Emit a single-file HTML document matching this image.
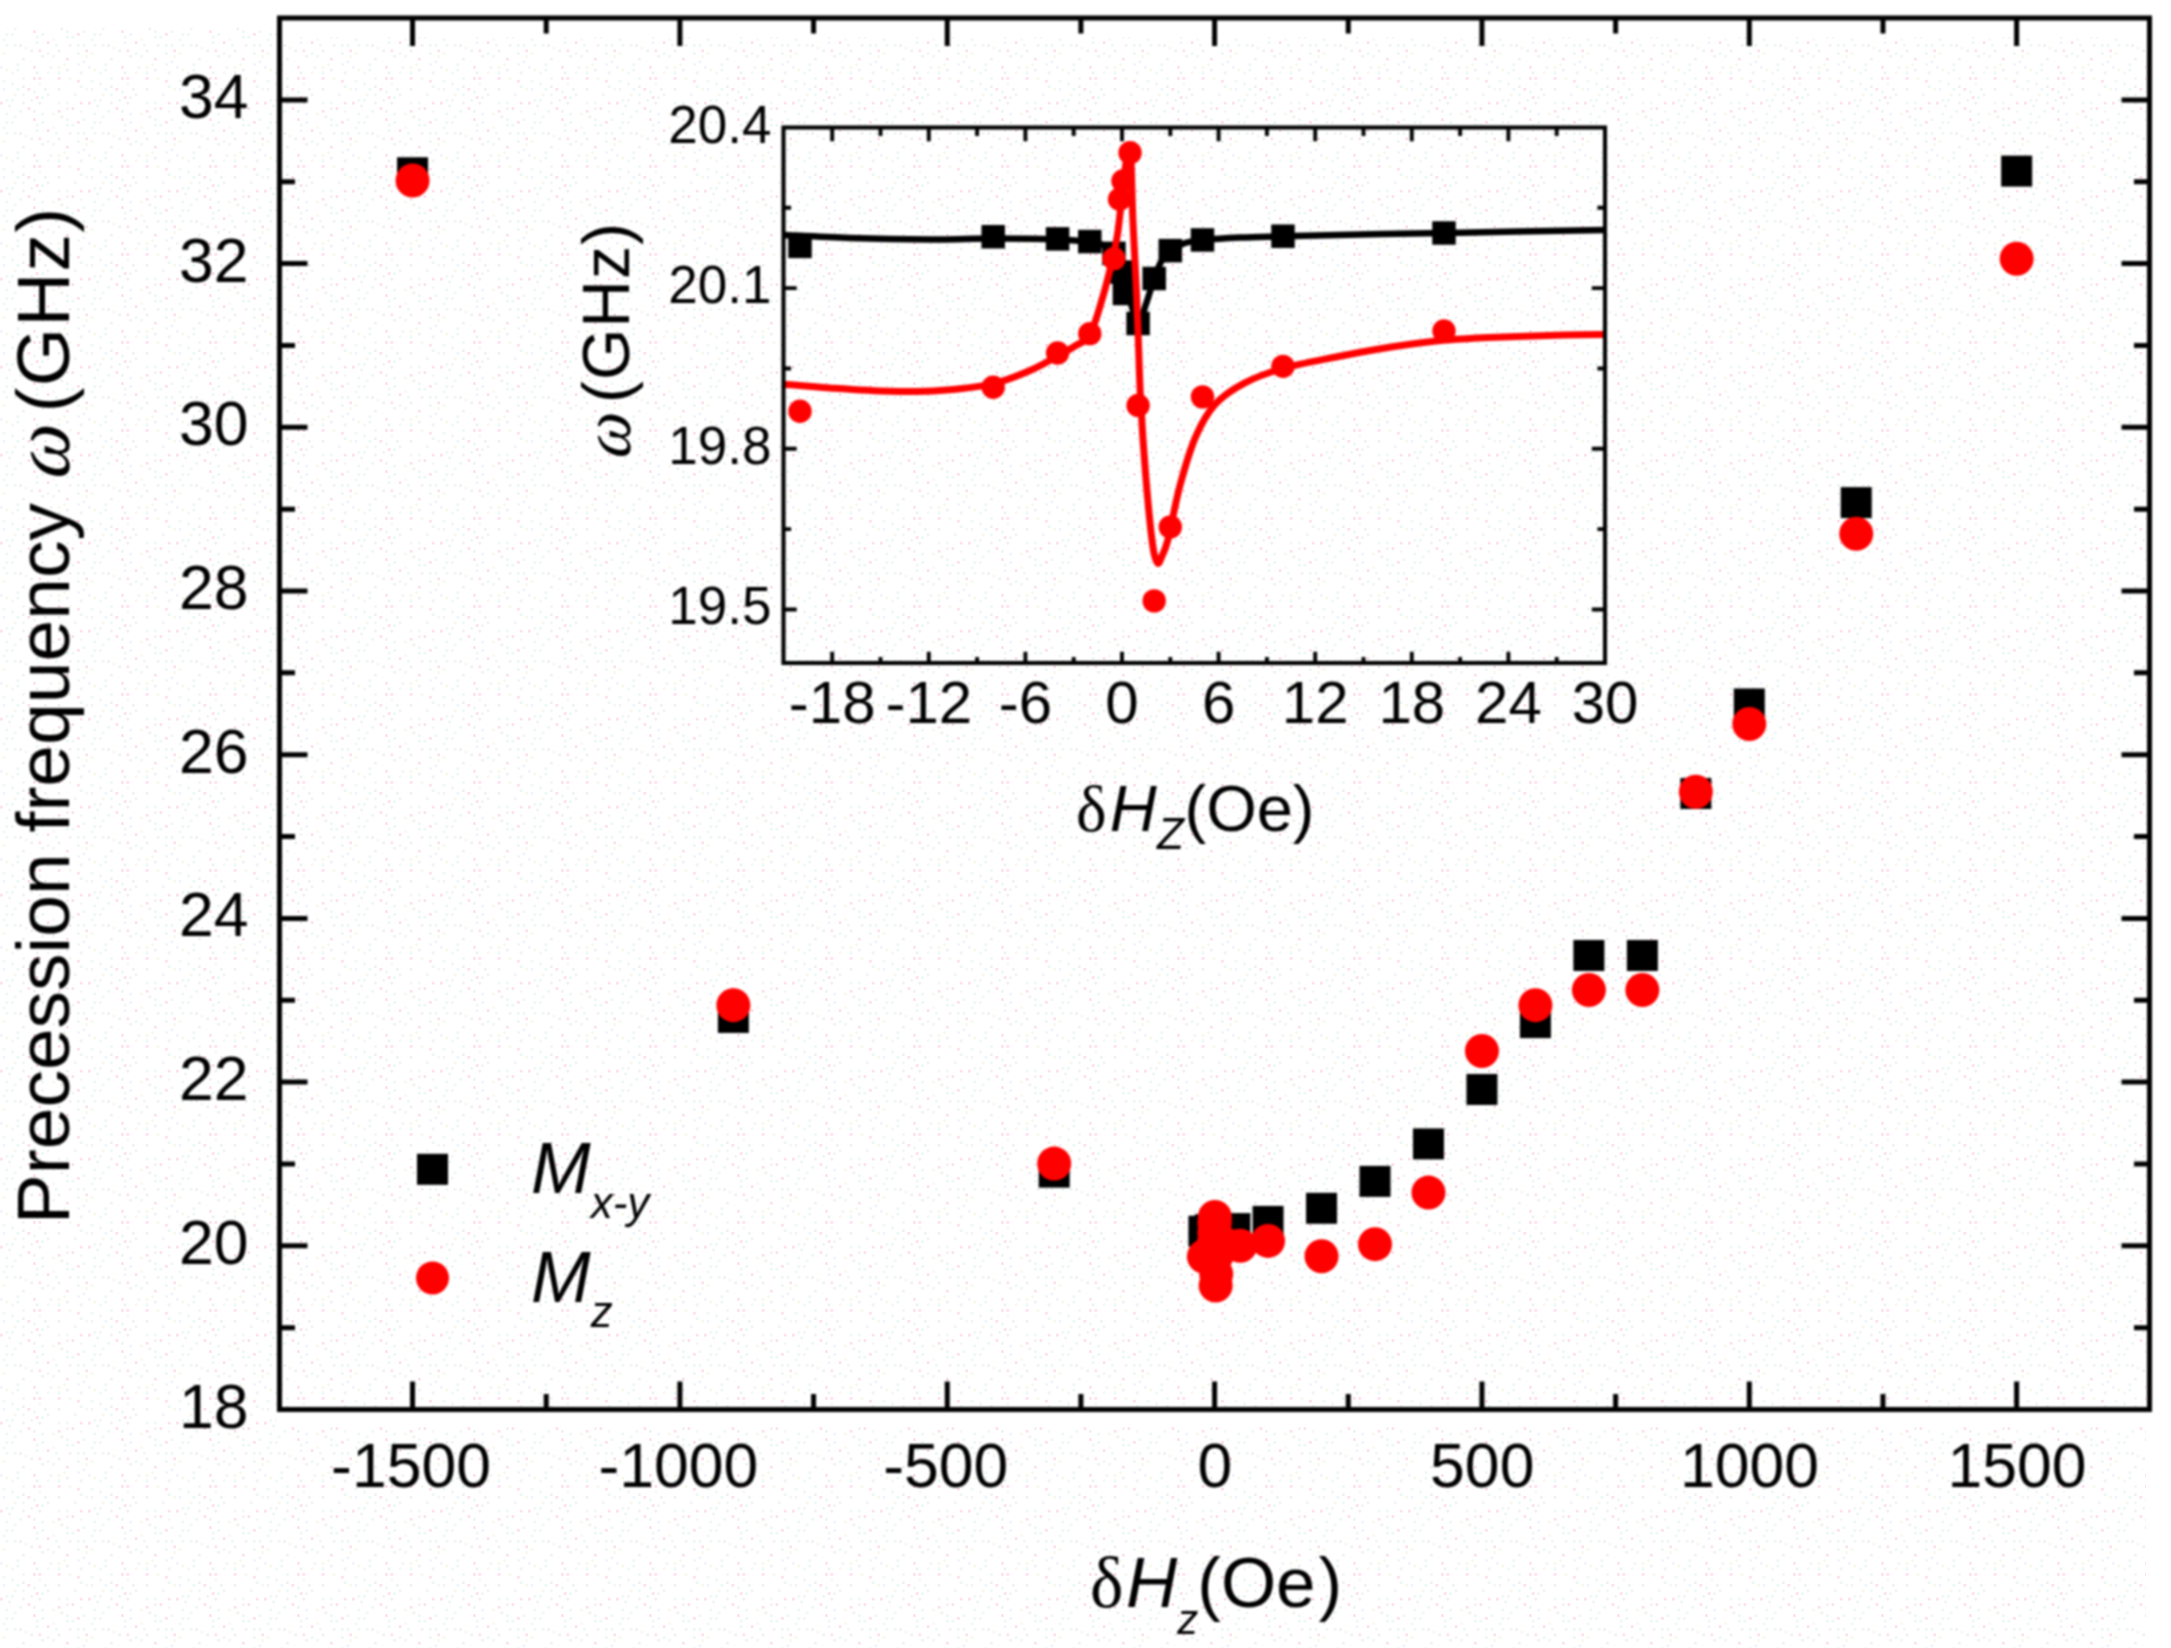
<!DOCTYPE html>
<html lang="en"><head><meta charset="utf-8"><title>Precession frequency vs field</title>
<style>html,body{margin:0;padding:0;background:#fff}svg{display:block}text{font-family:"Liberation Sans",sans-serif;fill:#000}.gr{font-family:"Liberation Serif","DejaVu Serif",serif}.it{font-style:italic}</style></head><body>
<svg width="2171" height="1648" viewBox="0 0 2171 1648">
<defs><pattern id="dots" width="88" height="88" patternUnits="userSpaceOnUse"><rect width="88" height="88" fill="#fff"/>
<rect x="77.00" y="79.75" width="2.75" height="2.75" fill="#ffe0ec"/>
<rect x="33.00" y="30.25" width="2.75" height="2.75" fill="#ffe0ec"/>
<rect x="82.50" y="30.25" width="2.75" height="2.75" fill="#eff8f9"/>
<rect x="77.00" y="52.25" width="2.75" height="2.75" fill="#eff8f9"/>
<rect x="13.75" y="5.50" width="2.75" height="2.75" fill="#f8f9ec"/>
<rect x="68.75" y="77.00" width="2.75" height="2.75" fill="#f8f9ec"/>
<rect x="27.50" y="0.00" width="2.75" height="2.75" fill="#ffe0ec"/>
<rect x="5.50" y="33.00" width="2.75" height="2.75" fill="#eff8f9"/>
<rect x="2.75" y="79.75" width="2.75" height="2.75" fill="#eff8f9"/>
<rect x="77.00" y="33.00" width="2.75" height="2.75" fill="#ffe0ec"/>
<rect x="38.50" y="49.50" width="2.75" height="2.75" fill="#ffe0ec"/>
<rect x="0.00" y="13.75" width="2.75" height="2.75" fill="#ffe0ec"/>
<rect x="46.75" y="71.50" width="2.75" height="2.75" fill="#f8f9ec"/>
<rect x="13.75" y="44.00" width="2.75" height="2.75" fill="#eff8f9"/>
<rect x="16.50" y="68.75" width="2.75" height="2.75" fill="#eff8f9"/>
<rect x="49.50" y="66.00" width="2.75" height="2.75" fill="#eff8f9"/>
<rect x="2.75" y="0.00" width="2.75" height="2.75" fill="#eff8f9"/>
<rect x="35.75" y="8.25" width="2.75" height="2.75" fill="#ffe0ec"/>
<rect x="66.00" y="68.75" width="2.75" height="2.75" fill="#f2f2f2"/>
<rect x="11.00" y="33.00" width="2.75" height="2.75" fill="#eff8f9"/>
<rect x="57.75" y="13.75" width="2.75" height="2.75" fill="#eff8f9"/>
<rect x="57.75" y="0.00" width="2.75" height="2.75" fill="#f2f2f2"/>
<rect x="19.25" y="22.00" width="2.75" height="2.75" fill="#eff8f9"/>
<rect x="16.50" y="0.00" width="2.75" height="2.75" fill="#eff8f9"/>
<rect x="79.75" y="85.25" width="2.75" height="2.75" fill="#eff8f9"/>
<rect x="33.00" y="77.00" width="2.75" height="2.75" fill="#ffe0ec"/>
<rect x="33.00" y="22.00" width="2.75" height="2.75" fill="#f2f2f2"/>
<rect x="66.00" y="19.25" width="2.75" height="2.75" fill="#f2f2f2"/>
<rect x="71.50" y="35.75" width="2.75" height="2.75" fill="#eff8f9"/>
<rect x="46.75" y="52.25" width="2.75" height="2.75" fill="#eff8f9"/>
<rect x="5.50" y="24.75" width="2.75" height="2.75" fill="#eff8f9"/>
<rect x="77.00" y="44.00" width="2.75" height="2.75" fill="#eff8f9"/>
<rect x="57.75" y="49.50" width="2.75" height="2.75" fill="#f2f2f2"/>
<rect x="11.00" y="11.00" width="2.75" height="2.75" fill="#eff8f9"/>
<rect x="35.75" y="41.25" width="2.75" height="2.75" fill="#eff8f9"/>
<rect x="63.25" y="63.25" width="2.75" height="2.75" fill="#f8f9ec"/>
<rect x="79.75" y="22.00" width="2.75" height="2.75" fill="#f8f9ec"/>
<rect x="66.00" y="30.25" width="2.75" height="2.75" fill="#eff8f9"/>
<rect x="52.25" y="38.50" width="2.75" height="2.75" fill="#f8f9ec"/>
<rect x="41.25" y="33.00" width="2.75" height="2.75" fill="#eff8f9"/>
<rect x="33.00" y="66.00" width="2.75" height="2.75" fill="#ffe0ec"/>
<rect x="8.25" y="16.50" width="2.75" height="2.75" fill="#eff8f9"/>
<rect x="5.50" y="44.00" width="2.75" height="2.75" fill="#eff8f9"/>
<rect x="68.75" y="44.00" width="2.75" height="2.75" fill="#f2f2f2"/>
<rect x="85.25" y="49.50" width="2.75" height="2.75" fill="#ffe0ec"/>
<rect x="30.25" y="11.00" width="2.75" height="2.75" fill="#eff8f9"/>
<rect x="38.50" y="82.50" width="2.75" height="2.75" fill="#f8f9ec"/>
<rect x="35.75" y="35.75" width="2.75" height="2.75" fill="#eff8f9"/>
<rect x="41.25" y="8.25" width="2.75" height="2.75" fill="#eff8f9"/>
<rect x="30.25" y="49.50" width="2.75" height="2.75" fill="#f2f2f2"/>
<rect x="22.00" y="13.75" width="2.75" height="2.75" fill="#f2f2f2"/>
<rect x="22.00" y="77.00" width="2.75" height="2.75" fill="#eff8f9"/>
<rect x="22.00" y="5.50" width="2.75" height="2.75" fill="#eff8f9"/>
<rect x="82.50" y="60.50" width="2.75" height="2.75" fill="#eff8f9"/>
<rect x="11.00" y="82.50" width="2.75" height="2.75" fill="#eff8f9"/>
<rect x="52.25" y="55.00" width="2.75" height="2.75" fill="#eff8f9"/>
<rect x="77.00" y="63.25" width="2.75" height="2.75" fill="#eff8f9"/>
<rect x="22.00" y="57.75" width="2.75" height="2.75" fill="#f2f2f2"/>
<rect x="11.00" y="71.50" width="2.75" height="2.75" fill="#eff8f9"/>
<rect x="85.25" y="0.00" width="2.75" height="2.75" fill="#f8f9ec"/>
<rect x="19.25" y="44.00" width="2.75" height="2.75" fill="#f2f2f2"/>
<rect x="57.75" y="66.00" width="2.75" height="2.75" fill="#f8f9ec"/>
<rect x="79.75" y="13.75" width="2.75" height="2.75" fill="#ffe0ec"/>
<rect x="2.75" y="52.25" width="2.75" height="2.75" fill="#f8f9ec"/>
<rect x="2.75" y="38.50" width="2.75" height="2.75" fill="#eff8f9"/>
<rect x="44.00" y="0.00" width="2.75" height="2.75" fill="#f2f2f2"/>
<rect x="52.25" y="24.75" width="2.75" height="2.75" fill="#f8f9ec"/>
<rect x="57.75" y="77.00" width="2.75" height="2.75" fill="#ffe0ec"/>
<rect x="41.25" y="55.00" width="2.75" height="2.75" fill="#f2f2f2"/>
<rect x="22.00" y="85.25" width="2.75" height="2.75" fill="#f2f2f2"/>
<rect x="5.50" y="11.00" width="2.75" height="2.75" fill="#eff8f9"/>
<rect x="27.50" y="19.25" width="2.75" height="2.75" fill="#ffe0ec"/>
<rect x="35.75" y="71.50" width="2.75" height="2.75" fill="#f2f2f2"/>
<rect x="85.25" y="55.00" width="2.75" height="2.75" fill="#f8f9ec"/>
<rect x="46.75" y="5.50" width="2.75" height="2.75" fill="#eff8f9"/>
<rect x="33.00" y="2.75" width="2.75" height="2.75" fill="#eff8f9"/>
<rect x="41.25" y="24.75" width="2.75" height="2.75" fill="#eff8f9"/>
<rect x="16.50" y="63.25" width="2.75" height="2.75" fill="#eff8f9"/>
<rect x="82.50" y="44.00" width="2.75" height="2.75" fill="#eff8f9"/>
<rect x="60.50" y="27.50" width="2.75" height="2.75" fill="#f2f2f2"/>
<rect x="38.50" y="13.75" width="2.75" height="2.75" fill="#f2f2f2"/>
<rect x="66.00" y="57.75" width="2.75" height="2.75" fill="#ffe0ec"/>
<rect x="66.00" y="13.75" width="2.75" height="2.75" fill="#eff8f9"/>
<rect x="55.00" y="44.00" width="2.75" height="2.75" fill="#eff8f9"/>
<rect x="57.75" y="71.50" width="2.75" height="2.75" fill="#eff8f9"/>
<rect x="74.25" y="5.50" width="2.75" height="2.75" fill="#eff8f9"/>
<rect x="57.75" y="22.00" width="2.75" height="2.75" fill="#ffe0ec"/>
<rect x="38.50" y="77.00" width="2.75" height="2.75" fill="#ffe0ec"/>
<rect x="66.00" y="35.75" width="2.75" height="2.75" fill="#eff8f9"/>
<rect x="24.75" y="46.75" width="2.75" height="2.75" fill="#f8f9ec"/>
<rect x="71.50" y="19.25" width="2.75" height="2.75" fill="#ffe0ec"/>
<rect x="0.00" y="66.00" width="2.75" height="2.75" fill="#eff8f9"/>
<rect x="5.50" y="68.75" width="2.75" height="2.75" fill="#f8f9ec"/>
<rect x="13.75" y="27.50" width="2.75" height="2.75" fill="#eff8f9"/>
<rect x="79.75" y="71.50" width="2.75" height="2.75" fill="#f2f2f2"/>
<rect x="46.75" y="41.25" width="2.75" height="2.75" fill="#ffe0ec"/>
</pattern><filter id="soft" x="0" y="0" width="2171" height="1648" filterUnits="userSpaceOnUse" color-interpolation-filters="sRGB"><feGaussianBlur stdDeviation="1.1"/></filter></defs>
<rect width="2171" height="1648" fill="#fff"/>
<rect x="0" y="27" width="2146" height="1621" fill="url(#dots)"/>
<rect x="279.5" y="18.0" width="1870.0" height="19" fill="#fff"/>
<rect x="276.5" y="1409.5" width="1876.0" height="17.5" fill="#fff"/>
<rect x="2149.5" y="0" width="21.5" height="1412.5" fill="#fff"/>
<g filter="url(#soft)">
<g stroke="#000" stroke-width="5.0" fill="none">
<path d="M412.55 18.0v28.0M412.55 1409.5v-28.0"/>
<path d="M546.23 18.0v15.5M546.23 1409.5v-15.5"/>
<path d="M679.90 18.0v28.0M679.90 1409.5v-28.0"/>
<path d="M813.57 18.0v15.5M813.57 1409.5v-15.5"/>
<path d="M947.25 18.0v28.0M947.25 1409.5v-28.0"/>
<path d="M1080.92 18.0v15.5M1080.92 1409.5v-15.5"/>
<path d="M1214.60 18.0v28.0M1214.60 1409.5v-28.0"/>
<path d="M1348.27 18.0v15.5M1348.27 1409.5v-15.5"/>
<path d="M1481.95 18.0v28.0M1481.95 1409.5v-28.0"/>
<path d="M1615.62 18.0v15.5M1615.62 1409.5v-15.5"/>
<path d="M1749.30 18.0v28.0M1749.30 1409.5v-28.0"/>
<path d="M1882.97 18.0v15.5M1882.97 1409.5v-15.5"/>
<path d="M2016.65 18.0v28.0M2016.65 1409.5v-28.0"/>
<path d="M279.5 1327.65h15.5M2149.5 1327.65h-15.5"/>
<path d="M279.5 1245.80h28.0M2149.5 1245.80h-28.0"/>
<path d="M279.5 1163.95h15.5M2149.5 1163.95h-15.5"/>
<path d="M279.5 1082.10h28.0M2149.5 1082.10h-28.0"/>
<path d="M279.5 1000.25h15.5M2149.5 1000.25h-15.5"/>
<path d="M279.5 918.40h28.0M2149.5 918.40h-28.0"/>
<path d="M279.5 836.55h15.5M2149.5 836.55h-15.5"/>
<path d="M279.5 754.70h28.0M2149.5 754.70h-28.0"/>
<path d="M279.5 672.85h15.5M2149.5 672.85h-15.5"/>
<path d="M279.5 591.00h28.0M2149.5 591.00h-28.0"/>
<path d="M279.5 509.15h15.5M2149.5 509.15h-15.5"/>
<path d="M279.5 427.30h28.0M2149.5 427.30h-28.0"/>
<path d="M279.5 345.45h15.5M2149.5 345.45h-15.5"/>
<path d="M279.5 263.60h28.0M2149.5 263.60h-28.0"/>
<path d="M279.5 181.75h15.5M2149.5 181.75h-15.5"/>
<path d="M279.5 99.90h28.0M2149.5 99.90h-28.0"/>
</g>
<rect x="279.5" y="18.0" width="1870.0" height="1391.5" fill="none" stroke="#000" stroke-width="5.0"/>
<g font-size="62.5" text-anchor="middle">
<text x="411.05" y="1487.0">-1500</text>
<text x="678.40" y="1487.0">-1000</text>
<text x="945.75" y="1487.0">-500</text>
<text x="1214.90" y="1487.0">0</text>
<text x="1482.25" y="1487.0">500</text>
<text x="1749.60" y="1487.0">1000</text>
<text x="2016.95" y="1487.0">1500</text>
</g>
<g font-size="62.5" text-anchor="end">
<text x="248.5" y="1427.50">18</text>
<text x="248.5" y="1263.80">20</text>
<text x="248.5" y="1100.10">22</text>
<text x="248.5" y="936.40">24</text>
<text x="248.5" y="772.70">26</text>
<text x="248.5" y="609.00">28</text>
<text x="248.5" y="445.30">30</text>
<text x="248.5" y="281.60">32</text>
<text x="248.5" y="117.90">34</text>
</g>
<text id="xt" x="1090" y="1607" font-size="71"><tspan class="gr">δ</tspan><tspan class="it" dx="2.5">H</tspan><tspan class="it" font-size="42" dy="26.7">z</tspan><tspan dy="-26.7" dx="-1">(Oe</tspan><tspan dx="3">)</tspan></text>
<text id="yt" transform="translate(69.2 1224.3) rotate(-90)" font-size="75">Precession frequency</text>
<text id="yt2" transform="translate(69.4 482.5) rotate(-90) skewX(-14)" font-size="82" class="gr">ω</text>
<text id="yt3" transform="translate(69.2 412.5) rotate(-90)" font-size="75" letter-spacing="1.2">(GHz)</text>
<g fill="#000">
<rect x="397.05" y="157.25" width="31.0" height="31.0"/>
<rect x="717.87" y="1001.94" width="31.0" height="31.0"/>
<rect x="1038.69" y="1156.64" width="31.0" height="31.0"/>
<rect x="1188.41" y="1215.73" width="31.0" height="31.0"/>
<rect x="1194.82" y="1214.26" width="31.0" height="31.0"/>
<rect x="1196.96" y="1214.58" width="31.0" height="31.0"/>
<rect x="1198.03" y="1214.99" width="31.0" height="31.0"/>
<rect x="1198.83" y="1216.79" width="31.0" height="31.0"/>
<rect x="1199.10" y="1219.66" width="31.0" height="31.0"/>
<rect x="1199.18" y="1222.93" width="31.0" height="31.0"/>
<rect x="1199.63" y="1227.52" width="31.0" height="31.0"/>
<rect x="1200.17" y="1220.64" width="31.0" height="31.0"/>
<rect x="1200.70" y="1216.39" width="31.0" height="31.0"/>
<rect x="1201.77" y="1214.75" width="31.0" height="31.0"/>
<rect x="1204.45" y="1214.18" width="31.0" height="31.0"/>
<rect x="1209.79" y="1213.68" width="31.0" height="31.0"/>
<rect x="1219.42" y="1213.11" width="31.0" height="31.0"/>
<rect x="1252.57" y="1205.91" width="31.0" height="31.0"/>
<rect x="1306.04" y="1192.81" width="31.0" height="31.0"/>
<rect x="1359.51" y="1165.88" width="31.0" height="31.0"/>
<rect x="1412.98" y="1128.40" width="31.0" height="31.0"/>
<rect x="1466.45" y="1073.97" width="31.0" height="31.0"/>
<rect x="1519.92" y="1007.10" width="31.0" height="31.0"/>
<rect x="1573.39" y="939.98" width="31.0" height="31.0"/>
<rect x="1626.86" y="939.98" width="31.0" height="31.0"/>
<rect x="1680.33" y="778.00" width="31.0" height="31.0"/>
<rect x="1733.80" y="688.45" width="31.0" height="31.0"/>
<rect x="1840.74" y="487.10" width="31.0" height="31.0"/>
<rect x="2001.15" y="155.61" width="31.0" height="31.0"/>
</g><g fill="#f00">
<circle cx="412.55" cy="180.52" r="17.0"/>
<circle cx="733.37" cy="1005.16" r="17.0"/>
<circle cx="1054.19" cy="1163.62" r="17.0"/>
<circle cx="1203.91" cy="1256.44" r="17.0"/>
<circle cx="1210.32" cy="1252.76" r="17.0"/>
<circle cx="1212.46" cy="1247.52" r="17.0"/>
<circle cx="1213.53" cy="1244.57" r="17.0"/>
<circle cx="1214.33" cy="1233.11" r="17.0"/>
<circle cx="1214.52" cy="1224.03" r="17.0"/>
<circle cx="1214.63" cy="1221.24" r="17.0"/>
<circle cx="1214.87" cy="1216.91" r="17.0"/>
<circle cx="1215.13" cy="1255.54" r="17.0"/>
<circle cx="1215.67" cy="1285.42" r="17.0"/>
<circle cx="1216.20" cy="1274.12" r="17.0"/>
<circle cx="1217.27" cy="1254.23" r="17.0"/>
<circle cx="1219.95" cy="1249.57" r="17.0"/>
<circle cx="1225.29" cy="1244.16" r="17.0"/>
<circle cx="1240.27" cy="1245.80" r="17.0"/>
<circle cx="1268.07" cy="1240.89" r="17.0"/>
<circle cx="1321.54" cy="1256.19" r="17.0"/>
<circle cx="1375.01" cy="1244.16" r="17.0"/>
<circle cx="1428.48" cy="1192.60" r="17.0"/>
<circle cx="1481.95" cy="1051.00" r="17.0"/>
<circle cx="1535.42" cy="1005.16" r="17.0"/>
<circle cx="1588.89" cy="989.94" r="17.0"/>
<circle cx="1642.36" cy="989.94" r="17.0"/>
<circle cx="1695.83" cy="791.70" r="17.0"/>
<circle cx="1749.30" cy="724.01" r="17.0"/>
<circle cx="1856.24" cy="533.71" r="17.0"/>
<circle cx="2016.65" cy="258.69" r="17.0"/>
</g>
<rect x="417.0" y="1153.8" width="31.0" height="31.0" fill="#000"/>
<circle cx="432.5" cy="1278" r="16.5" fill="#f00"/>
<text id="lg1" x="531" y="1193.3" font-size="71.6" class="it">M<tspan font-size="44" dy="24.3">x-y</tspan></text>
<text id="lg2" x="531" y="1302.4" font-size="71.6" class="it">M<tspan font-size="44" dy="24.3">z</tspan></text>
<g stroke="#000" stroke-width="3.9" fill="none">
<path d="M832.20 127.5v13.8M832.20 663.0v-11.3"/>
<path d="M880.50 127.5v8.6M880.50 663.0v-6.0"/>
<path d="M928.80 127.5v13.8M928.80 663.0v-11.3"/>
<path d="M977.10 127.5v8.6M977.10 663.0v-6.0"/>
<path d="M1025.40 127.5v13.8M1025.40 663.0v-11.3"/>
<path d="M1073.70 127.5v8.6M1073.70 663.0v-6.0"/>
<path d="M1122.00 127.5v13.8M1122.00 663.0v-11.3"/>
<path d="M1170.30 127.5v8.6M1170.30 663.0v-6.0"/>
<path d="M1218.60 127.5v13.8M1218.60 663.0v-11.3"/>
<path d="M1266.90 127.5v8.6M1266.90 663.0v-6.0"/>
<path d="M1315.20 127.5v13.8M1315.20 663.0v-11.3"/>
<path d="M1363.50 127.5v8.6M1363.50 663.0v-6.0"/>
<path d="M1411.80 127.5v13.8M1411.80 663.0v-11.3"/>
<path d="M1460.10 127.5v8.6M1460.10 663.0v-6.0"/>
<path d="M1508.40 127.5v13.8M1508.40 663.0v-11.3"/>
<path d="M1556.70 127.5v8.6M1556.70 663.0v-6.0"/>
<path d="M1605.00 127.5v13.8M1605.00 663.0v-11.3"/>
<path d="M783.5 609.45h13.2M1605.0 609.45h-13.2"/>
<path d="M783.5 529.12h7.6M1605.0 529.12h-7.6"/>
<path d="M783.5 448.80h13.2M1605.0 448.80h-13.2"/>
<path d="M783.5 368.47h7.6M1605.0 368.47h-7.6"/>
<path d="M783.5 288.15h13.2M1605.0 288.15h-13.2"/>
<path d="M783.5 207.82h7.6M1605.0 207.82h-7.6"/>
</g>
<path d="M783.5 235.0C794.6 235.5 825.6 237.2 850.0 238.0C874.4 238.8 906.2 239.4 930.0 239.5C953.8 239.6 971.2 238.5 992.5 238.5C1013.8 238.5 1041.5 238.9 1057.7 239.5C1073.9 240.1 1081.8 240.9 1089.7 242.0C1097.6 243.1 1101.0 243.8 1105.0 246.0C1109.0 248.2 1111.2 250.7 1114.0 255.0C1116.8 259.3 1119.3 264.5 1122.0 272.0C1124.7 279.5 1127.3 291.3 1130.0 300.0C1132.7 308.7 1135.7 323.3 1138.4 324.0C1141.1 324.7 1143.4 311.4 1146.0 304.0C1148.6 296.6 1151.4 286.5 1153.9 279.5C1156.4 272.5 1158.3 266.8 1161.0 262.0C1163.7 257.2 1165.9 254.2 1169.9 251.0C1173.9 247.8 1179.7 244.8 1185.0 243.0C1190.3 241.2 1192.8 240.9 1202.0 240.0C1211.2 239.1 1226.5 238.1 1240.0 237.5C1253.5 236.9 1262.7 236.8 1282.7 236.3C1302.7 235.8 1333.3 235.1 1360.0 234.5C1386.7 233.9 1402.2 233.8 1443.0 233.0C1483.8 232.2 1578.0 230.5 1605.0 230.0" fill="none" stroke="#000" stroke-width="6.5"/>
<g fill="#000">
<rect x="788.25" y="234.63" width="23.5" height="23.5"/>
<rect x="981.45" y="224.99" width="23.5" height="23.5"/>
<rect x="1045.85" y="227.13" width="23.5" height="23.5"/>
<rect x="1078.05" y="229.81" width="23.5" height="23.5"/>
<rect x="1102.20" y="241.59" width="23.5" height="23.5"/>
<rect x="1110.25" y="260.33" width="23.5" height="23.5"/>
<rect x="1112.66" y="281.75" width="23.5" height="23.5"/>
<rect x="1126.35" y="311.74" width="23.5" height="23.5"/>
<rect x="1142.45" y="266.76" width="23.5" height="23.5"/>
<rect x="1158.55" y="238.91" width="23.5" height="23.5"/>
<rect x="1190.75" y="228.20" width="23.5" height="23.5"/>
<rect x="1271.25" y="224.46" width="23.5" height="23.5"/>
<rect x="1432.25" y="221.24" width="23.5" height="23.5"/>
</g>
<path d="M783.5 384.2C791.2 384.8 812.2 386.8 830.0 388.0C847.8 389.2 871.7 390.9 890.0 391.3C908.3 391.7 922.9 391.8 940.0 390.5C957.1 389.2 977.5 387.1 992.5 383.8C1007.5 380.5 1019.1 375.1 1030.0 370.5C1040.9 365.9 1050.2 360.1 1057.7 356.0C1065.2 351.9 1069.7 349.5 1075.0 346.0C1080.3 342.5 1085.2 342.7 1089.7 335.0C1094.2 327.3 1098.2 312.2 1101.9 300.0C1105.6 287.8 1109.3 272.8 1111.9 262.0C1114.5 251.2 1115.9 244.5 1117.4 235.0C1118.9 225.5 1119.7 215.8 1121.0 205.0C1122.3 194.2 1123.8 179.2 1125.0 170.0C1126.2 160.8 1127.5 151.7 1128.5 150.0C1129.5 148.3 1130.3 148.3 1131.0 160.0C1131.7 171.7 1132.0 198.9 1132.9 220.0C1133.8 241.1 1135.3 266.0 1136.2 286.3C1137.1 306.6 1137.7 322.7 1138.4 341.6C1139.1 360.6 1139.4 377.5 1140.6 400.0C1141.8 422.5 1143.8 452.4 1145.8 476.5C1147.8 500.6 1150.6 530.1 1152.6 544.5C1154.5 558.9 1155.9 561.1 1157.5 563.0C1159.1 564.9 1160.2 560.1 1162.0 556.0C1163.8 551.9 1165.2 550.2 1168.2 538.6C1171.2 527.0 1175.3 503.0 1179.8 486.2C1184.3 469.4 1189.5 451.3 1195.3 437.7C1201.1 424.1 1206.7 413.8 1214.8 404.7C1222.9 395.6 1232.6 389.3 1243.9 383.3C1255.2 377.3 1266.9 373.0 1282.7 368.5C1298.5 364.0 1323.0 359.7 1338.5 356.5C1354.0 353.3 1363.5 351.6 1376.0 349.5C1388.5 347.4 1402.5 345.3 1413.7 343.8C1424.9 342.3 1430.5 341.4 1443.0 340.3C1455.5 339.2 1468.8 338.4 1489.0 337.5C1509.2 336.6 1544.7 335.5 1564.0 335.0C1583.3 334.5 1598.2 334.5 1605.0 334.4" fill="none" stroke="#f00" stroke-width="7.0"/>
<g fill="#f00">
<circle cx="800.00" cy="411.31" r="11.7"/>
<circle cx="993.20" cy="387.22" r="11.7"/>
<circle cx="1057.60" cy="352.95" r="11.7"/>
<circle cx="1089.80" cy="333.67" r="11.7"/>
<circle cx="1113.95" cy="258.70" r="11.7"/>
<circle cx="1119.59" cy="199.26" r="11.7"/>
<circle cx="1122.97" cy="181.05" r="11.7"/>
<circle cx="1130.05" cy="152.67" r="11.7"/>
<circle cx="1138.10" cy="405.42" r="11.7"/>
<circle cx="1154.20" cy="600.88" r="11.7"/>
<circle cx="1170.30" cy="526.98" r="11.7"/>
<circle cx="1202.50" cy="396.86" r="11.7"/>
<circle cx="1283.00" cy="366.33" r="11.7"/>
<circle cx="1444.00" cy="330.99" r="11.7"/>
</g>
<rect x="783.5" y="127.5" width="821.5" height="535.5" fill="none" stroke="#000" stroke-width="4.1"/>
<g font-size="60" text-anchor="middle">
<text x="832.20" y="722.5">-18</text>
<text x="928.80" y="722.5">-12</text>
<text x="1025.40" y="722.5">-6</text>
<text x="1122.00" y="722.5">0</text>
<text x="1218.60" y="722.5">6</text>
<text x="1315.20" y="722.5">12</text>
<text x="1411.80" y="722.5">18</text>
<text x="1508.40" y="722.5">24</text>
<text x="1605.00" y="722.5">30</text>
</g>
<g font-size="53" text-anchor="end">
<text x="771.5" y="142.50">20.4</text>
<text x="771.5" y="303.15">20.1</text>
<text x="771.5" y="463.80">19.8</text>
<text x="771.5" y="624.45">19.5</text>
</g>
<text id="ixt" x="1076" y="830.7" font-size="65"><tspan class="gr">δ</tspan><tspan class="it" dx="3">H</tspan><tspan class="it" font-size="44" dy="18" dx="0.5">Z</tspan><tspan dy="-18" dx="0.5">(Oe)</tspan></text>
<text id="iyt2" transform="translate(630 461.5) rotate(-90) skewX(-14)" font-size="69" class="gr">ω</text>
<text id="iyt3" transform="translate(629 403) rotate(-90)" font-size="66" letter-spacing="1">(GHz)</text>
</g>
</svg></body></html>
